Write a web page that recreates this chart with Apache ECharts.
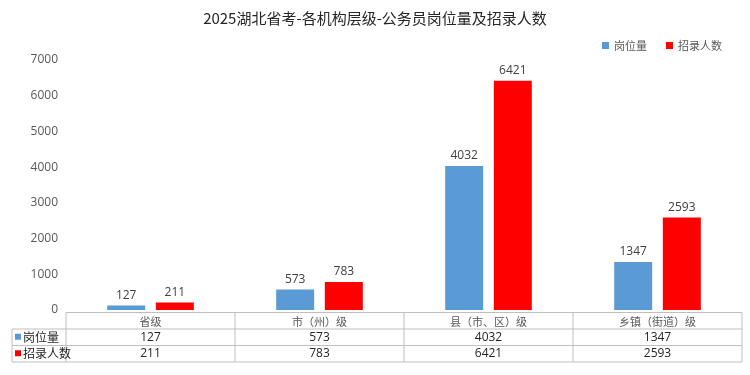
<!DOCTYPE html>
<html><head><meta charset="utf-8">
<script src="https://cdn.jsdelivr.net/npm/echarts@6/dist/echarts.min.js"></script>
<style>html,body{margin:0;padding:0;background:#fff}#c{width:750px;height:375px}</style>
</head><body><div id="c"></div>
<script>
const categories = ['省级', '市（州）级', '县（市、区）级', '乡镇（街道）级'];
const seriesNames = ['岗位量', '招录人数'];
const posts = [127, 573, 4032, 1347];
const hires = [211, 783, 6421, 2593];
const colors = ['#5B9BD5', '#FF0000'];
const FONT = '"Noto Sans CJK SC", "Microsoft YaHei", sans-serif';

const chart = echarts.init(document.getElementById('c'));
chart.setOption({
  animation: false,
  textStyle: { fontFamily: FONT },
  title: { text: '2025湖北省考-各机构层级-公务员岗位量及招录人数', left: 'center', top: 6,
    textStyle: { fontSize: 15, fontWeight: 'normal', color: '#262626', fontFamily: FONT } },
  legend: { data: seriesNames, top: 35, right: 23, itemWidth: 7, itemHeight: 7, itemGap: 19, icon: 'rect',
    textStyle: { fontSize: 11, color: '#595959', fontFamily: FONT } },
  grid: { left: 66, right: 8, top: 60, bottom: 65, containLabel: false },
  xAxis: { type: 'category', data: categories,
    axisLine: { show: false }, axisTick: { show: false },
    axisLabel: { margin: 6, fontSize: 11, color: '#595959', fontFamily: FONT } },
  yAxis: { type: 'value', min: 0, max: 7000, interval: 1000,
    splitLine: { show: false }, axisLine: { show: false }, axisTick: { show: false },
    axisLabel: { margin: 8, fontSize: 12, color: '#595959', fontFamily: '"Open Sans", sans-serif',
      formatter: v => String(v) } },
  series: [
    { name: seriesNames[0], type: 'bar', data: posts, barWidth: 38, barGap: '28%',
      itemStyle: { color: colors[0] },
      label: { show: true, position: 'top', distance: 4, fontSize: 12, color: '#404040', fontFamily: '"Open Sans", sans-serif' } },
    { name: seriesNames[1], type: 'bar', data: hires, barWidth: 38,
      itemStyle: { color: colors[1] },
      label: { show: true, position: 'top', distance: 4, fontSize: 12, color: '#404040', fontFamily: '"Open Sans", sans-serif' } }
  ]
});

// data table under the axis
const cx = categories.map((_, i) => chart.convertToPixel({ xAxisIndex: 0 }, i));
const bw = cx.length > 1 ? cx[1] - cx[0] : 169;
const xL = cx[0] - bw / 2, xR = cx[cx.length - 1] + bw / 2;
const y0 = chart.convertToPixel({ yAxisIndex: 0 }, 0);
const tTop = y0 + 2.5, rowH = 16.5;
const labX = 12;
const lineStyle = { stroke: '#BFBFBF', lineWidth: 1 };
const g = [];
const hl = (x1, y, x2) => g.push({ type: 'line', shape: { x1, y1: y, x2, y2: y }, style: lineStyle, silent: true });
const vl = (x, y1, y2) => g.push({ type: 'line', shape: { x1: x, y1, x2: x, y2 }, style: lineStyle, silent: true });
hl(xL, tTop, xR);
hl(labX, tTop + rowH, xR);
hl(labX, tTop + 2 * rowH, xR);
hl(labX, tTop + 3 * rowH, xR);
vl(labX, tTop + rowH, tTop + 3 * rowH);
for (let i = 0; i <= cx.length; i++) vl(xL + i * bw, tTop, tTop + 3 * rowH);
const rows = [posts, hires];
rows.forEach((arr, r) => {
  const yc = tTop + (r + 1.5) * rowH;
  g.push({ type: 'rect', shape: { x: labX + 3, y: yc - 3.5, width: 6, height: 6 }, style: { fill: colors[r] }, silent: true });
  g.push({ type: 'text', x: labX + 11, y: yc, style: { text: seriesNames[r], fontSize: 12, fill: '#262626', fontFamily: FONT, verticalAlign: 'middle' }, silent: true });
  arr.forEach((v, i) => {
    g.push({ type: 'text', x: cx[i], y: yc, style: { text: String(v), fontSize: 12, fill: '#262626', fontFamily: '"Open Sans", sans-serif', align: 'center', verticalAlign: 'middle' }, silent: true });
  });
});
chart.setOption({ graphic: g });
</script></body></html>
